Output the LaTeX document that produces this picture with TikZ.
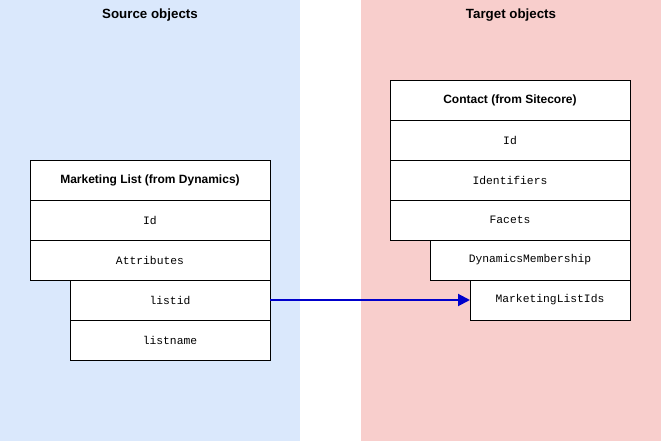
\documentclass[tikz,border=0pt]{standalone}
\usepackage{fontspec}
\setmainfont{Liberation Sans}
\setmonofont{Liberation Mono}
\usetikzlibrary{arrows.meta}
\definecolor{lb}{HTML}{DAE8FC}
\definecolor{lr}{HTML}{F8CECC}
\begin{document}
\begin{tikzpicture}[x=0.75pt,y=-0.75pt,
 box/.style={draw=black,fill=white,line width=0.6pt},
 hd/.style={font=\bfseries\fontsize{9}{10}\selectfont},
 fld/.style={font=\ttfamily\fontsize{8.5}{10}\selectfont},
 ttl/.style={font=\bfseries\fontsize{10}{12}\selectfont}]
\useasboundingbox (0,0) rectangle (661,441);
\fill[lb] (0,0) rectangle (300,441);
\fill[lr] (361,0) rectangle (661,441);
\node[ttl] (st) at (150,15) {Source objects};
\node[ttl] (tt) at (511,15) {Target objects};
% left
\draw[box] (30,160) rectangle (270,200); \node[hd] (ml) at (150,180) {Marketing List (from Dynamics)};
\draw[box] (30,200) rectangle (270,240); \node[fld] (lid) at (150,220) {Id};
\draw[box] (30,240) rectangle (270,280); \node[fld] (latt) at (150,260) {Attributes};
\draw[box] (70,280) rectangle (270,320); \node[fld] (listid) at (170,300) {listid};
\draw[box] (70,320) rectangle (270,360); \node[fld] (listname) at (170,340) {listname};
% right
\draw[box] (390,80) rectangle (630,120); \node[hd] (ct) at (510,100) {Contact (from Sitecore)};
\draw[box] (390,120) rectangle (630,160); \node[fld] (rid) at (510,140) {Id};
\draw[box] (390,160) rectangle (630,200); \node[fld] (ident) at (510,180) {Identifiers};
\draw[box] (390,200) rectangle (630,240); \node[fld] (fac) at (510,220) {Facets};
\draw[box] (430,240) rectangle (630,280); \node[fld] (dm) at (530,260) {DynamicsMembership};
\draw[box] (470,280) rectangle (630,320); \node[fld] (mli) at (550,300) {MarketingListIds};
\coordinate (a) at (270,300);
\coordinate (b) at (470,300);
\draw[line width=1.5pt,color=blue!80!black,-{Triangle[length=9pt,width=9pt,open,fill=blue!80!black]}] (a) -- (b);
\end{tikzpicture}
\end{document}
